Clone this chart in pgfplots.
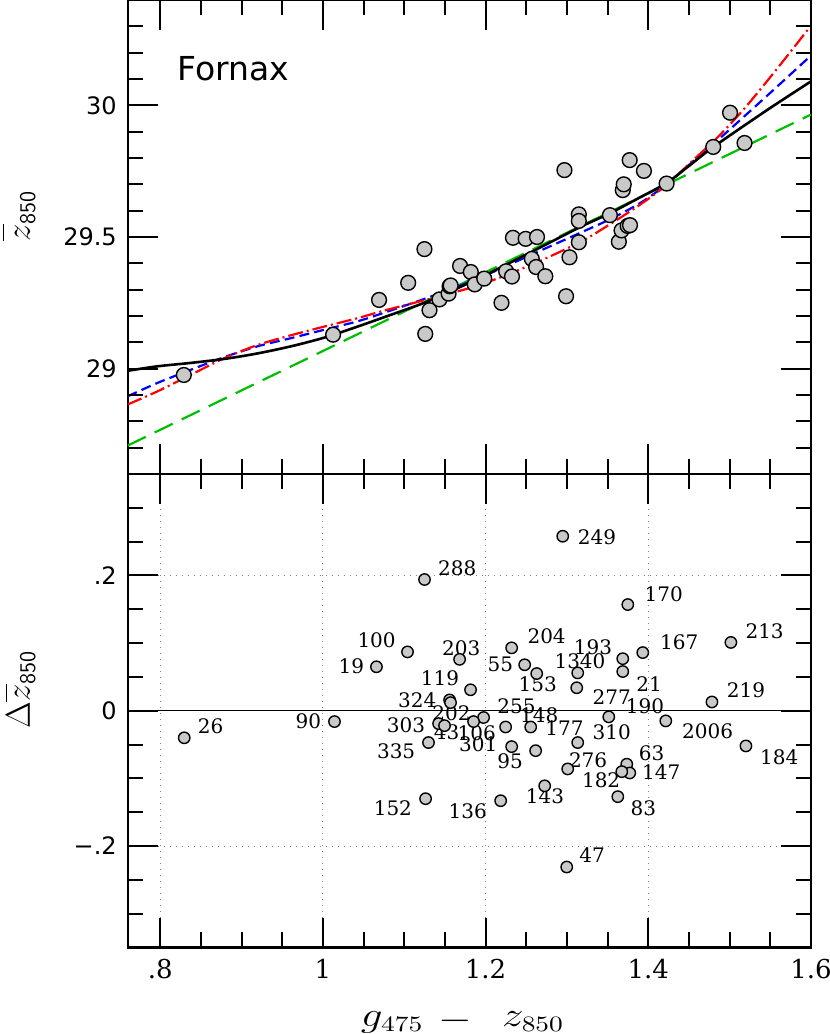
\documentclass[border=0pt]{standalone}
\usepackage{fontspec}
\usepackage{graphicx}
\usepackage{pgfplots}
\pgfplotsset{compat=1.18}

\newfontfamily\dvsans{DejaVu Sans}
\newfontfamily\dvserif{DejaVu Serif}
\newcommand\ticksans{\dvsans\fontsize{12}{14}\selectfont}
\newcommand\tickserif{\dvserif\fontsize{13}{15}\selectfont}
\newcommand\labserif{\dvserif\fontsize{10}{12}\selectfont}

\definecolor{ptgray}{gray}{0.79}
\definecolor{fitgreen}{rgb}{0,0.75,0}
\tikzset{tk/.style={black, line width=1pt}}

\pgfplotsset{
  panel/.style={
    scale only axis, width=341.65pt,
    xmin=0.76, xmax=1.6,
    axis line style={line width=1.1pt},
    tick align=inside,
    major tick length=15pt, minor tick length=7.5pt,
    tick style={black, line width=1pt},
    xtick={0.8,1.0,1.2,1.4,1.6}, minor x tick num=3,
    yticklabel style={font=\ticksans, anchor=east, inner sep=0pt, xshift=-5.3pt},
    xticklabel style={font=\tickserif, anchor=north, inner sep=0pt, yshift=-5.5pt},
    ylabel style={at={(axis description cs:-0.143,0.545)}, anchor=base, inner sep=0pt,
      font=\fontsize{16}{19}\selectfont},
  },
  pts/.style={only marks, mark=*, mark options={fill=ptgray, draw=black, line width=0.7pt}},
  tks/.style={black, line width=1pt, unbounded coords=jump, forget plot, mark=none},
}

\begin{document}
\begin{tikzpicture}
% upper panel: magnitudes and the fits
\begin{axis}[panel, at={(0,0)}, anchor=south west, height=237pt,
  ymin=28.6, ymax=30.4,
  ytick={29,29.5,30}, yticklabels={29,29.5,30}, minor y tick num=4,
  xticklabels={},
  ylabel={$\overline{z\vphantom{b}}_{\mathsf{850}}$},
]
\addplot[fitgreen, line width=1.1pt, dash pattern=on 10pt off 5pt]
  coordinates {(0.76,28.708) (1.6,29.965)};
\addplot[blue, line width=1.1pt, dash pattern=on 5pt off 2.6pt, smooth] table {
x z
0.76 28.895
0.7967 28.946
0.8378 28.996
0.8788 29.044
0.9198 29.085
0.9609 29.116
1.0018 29.148
1.0428 29.180
1.0757 29.213
1.131 29.272
1.1926 29.345
1.2542 29.430
1.3157 29.515
1.3526 29.567
1.3895 29.628
1.4224 29.700
1.4634 29.810
1.492 29.886
1.5455 30.035
1.6 30.189
};
\addplot[red, line width=1.1pt, dash pattern=on 7.5pt off 2pt on 1pt off 2pt, smooth] table {
x z
0.76 28.864
0.7967 28.914
0.8378 28.977
0.8788 29.040
0.9198 29.090
0.9609 29.127
1.0018 29.160
1.0428 29.192
1.0757 29.221
1.131 29.265
1.1926 29.318
1.2542 29.392
1.3157 29.480
1.3526 29.548
1.3895 29.622
1.4224 29.697
1.451 29.780
1.4856 29.880
1.5167 29.983
1.5455 30.090
1.5727 30.195
1.6 30.303
};
\addplot[black, line width=1.3pt, smooth] table {
x z
0.76 28.992
0.7967 29.009
0.8378 29.022
0.8788 29.037
0.9198 29.058
0.9609 29.085
1.0018 29.118
1.0428 29.160
1.0757 29.196
1.131 29.258
1.1926 29.345
1.2542 29.440
1.3157 29.537
1.3526 29.590
1.3895 29.650
1.4224 29.705
1.45 29.770
1.48 29.842
1.5455 29.981
1.6 30.091
};
\addplot[pts, mark size=3.7pt] table {
x z
0.8290 28.976
1.0125 29.129
1.0690 29.261
1.1048 29.326
1.1248 29.454
1.1258 29.132
1.1310 29.222
1.1433 29.263
1.1545 29.285
1.1557 29.313
1.1570 29.316
1.1686 29.390
1.1818 29.367
1.1866 29.320
1.1983 29.342
1.2195 29.250
1.2252 29.370
1.2324 29.350
1.2336 29.497
1.2492 29.493
1.2568 29.417
1.2621 29.386
1.2632 29.500
1.2734 29.351
1.2969 29.754
1.2989 29.275
1.3031 29.423
1.3146 29.586
1.3146 29.561
1.3146 29.480
1.3528 29.583
1.3638 29.482
1.3671 29.525
1.3686 29.678
1.3698 29.700
1.3746 29.542
1.3775 29.545
1.3771 29.792
1.3946 29.751
1.4225 29.703
1.4798 29.842
1.5005 29.972
1.5183 29.857
};
\node[anchor=west, inner sep=0pt, font=\dvsans\fontsize{16.5}{18}\selectfont]
  at (axis cs:0.8205,30.14) {Fornax};
% x ticks on bottom and top edges
\addplot[tks] coordinates {
(0.8,28.6) (0.8,28.714) (0.8,nan) (1.0,28.6) (1.0,28.714) (1.0,nan)
(1.2,28.6) (1.2,28.714) (1.2,nan) (1.4,28.6) (1.4,28.714) (1.4,nan)
(0.8,30.4) (0.8,30.286) (0.8,nan) (1.0,30.4) (1.0,30.286) (1.0,nan)
(1.2,30.4) (1.2,30.286) (1.2,nan) (1.4,30.4) (1.4,30.286)
};
\addplot[tks] coordinates {
(0.85,28.6) (0.85,28.657) (0.85,nan) (0.9,28.6) (0.9,28.657) (0.9,nan)
(0.95,28.6) (0.95,28.657) (0.95,nan) (1.05,28.6) (1.05,28.657) (1.05,nan)
(1.1,28.6) (1.1,28.657) (1.1,nan) (1.15,28.6) (1.15,28.657) (1.15,nan)
(1.25,28.6) (1.25,28.657) (1.25,nan) (1.3,28.6) (1.3,28.657) (1.3,nan)
(1.35,28.6) (1.35,28.657) (1.35,nan) (1.45,28.6) (1.45,28.657) (1.45,nan)
(1.5,28.6) (1.5,28.657) (1.5,nan) (1.55,28.6) (1.55,28.657) (1.55,nan)
(0.85,30.4) (0.85,30.343) (0.85,nan) (0.9,30.4) (0.9,30.343) (0.9,nan)
(0.95,30.4) (0.95,30.343) (0.95,nan) (1.05,30.4) (1.05,30.343) (1.05,nan)
(1.1,30.4) (1.1,30.343) (1.1,nan) (1.15,30.4) (1.15,30.343) (1.15,nan)
(1.25,30.4) (1.25,30.343) (1.25,nan) (1.3,30.4) (1.3,30.343) (1.3,nan)
(1.35,30.4) (1.35,30.343) (1.35,nan) (1.45,30.4) (1.45,30.343) (1.45,nan)
(1.5,30.4) (1.5,30.343) (1.5,nan) (1.55,30.4) (1.55,30.343)
};
% y ticks on left and right edges
\pgfplotsinvokeforeach{29,29.5,30}{
  \draw[tk] (axis cs:0.76,#1) -- ([xshift=15pt]axis cs:0.76,#1);
  \draw[tk] (axis cs:1.6,#1) -- ([xshift=-15pt]axis cs:1.6,#1);
}
\pgfplotsinvokeforeach{28.7,28.8,28.9,29.1,29.2,29.3,29.4,29.6,29.7,29.8,29.9,30.1,30.2,30.3}{
  \draw[tk] (axis cs:0.76,#1) -- ([xshift=7.5pt]axis cs:0.76,#1);
  \draw[tk] (axis cs:1.6,#1) -- ([xshift=-7.5pt]axis cs:1.6,#1);
}
\end{axis}

% lower panel: residuals
\begin{axis}[panel, at={(0,0)}, anchor=north west, height=236.75pt,
  ymin=-0.35, ymax=0.35,
  ytick={-0.2,0,0.2}, yticklabels={−.2,0,.2}, minor y tick num=3,
  xticklabels={.8,1,1.2,1.4,1.6},
  grid=major,
  major grid style={gray, line width=0.5pt, dash pattern=on 0.5pt off 2.5pt},
  ylabel={$\Delta\overline{z\vphantom{t}}_{\mathsf{850}}$},
  xlabel={\scalebox{1.25}[1]{$g_{475}$\hspace{6pt}\raisebox{-1.5pt}{$-$}\hspace{12pt}$z_{850}$}},
  xlabel style={at={(axis description cs:0.49,0)}, anchor=base, inner sep=0pt,
    yshift=-39.5pt, font=\fontsize{16}{19}\selectfont},
]
\addplot[black, line width=0.7pt] coordinates {(0.76,0) (1.6,0)};
\addplot[pts, mark size=2.85pt] table {
x d
1.2948 0.258
1.1249 0.194
1.3748 0.157
1.5015 0.101
1.1040 0.087
1.0658 0.065
1.1680 0.076
1.2320 0.093
1.2480 0.068
1.2628 0.055
1.3132 0.056
1.3686 0.077
1.3686 0.058
1.3932 0.086
1.1815 0.031
1.3120 0.034
1.1557 0.016
1.1569 0.012
1.4782 0.013
1.3514 -0.009
1.4215 -0.015
1.1975 -0.010
1.1422 -0.019
1.1852 -0.016
1.2246 -0.024
1.2554 -0.024
1.1298 -0.047
1.2320 -0.053
1.2615 -0.059
1.3132 -0.047
1.3735 -0.079
1.3772 -0.092
1.3674 -0.090
1.3009 -0.086
1.2726 -0.111
1.3625 -0.127
1.1262 -0.130
1.2185 -0.133
1.2997 -0.231
0.8295 -0.040
1.0142 -0.016
1.5200 -0.052
1.1495 -0.022
};
\begin{scope}[every node/.style={inner sep=0pt, anchor=center, font=\labserif}]
\node at (axis cs:1.337,0.257) {249};
\node at (axis cs:1.165,0.210) {288};
\node at (axis cs:1.419,0.173) {170};
\node at (axis cs:1.543,0.117) {213};
\node at (axis cs:1.066,0.104) {100};
\node at (axis cs:1.275,0.110) {204};
\node at (axis cs:1.170,0.092) {203};
\node at (axis cs:1.332,0.094) {193};
\node at (axis cs:1.438,0.101) {167};
\node at (axis cs:1.218,0.069) {55};
\node at (axis cs:1.316,0.073) {1340};
\node at (axis cs:1.035,0.066) {19};
\node at (axis cs:1.144,0.048) {119};
\node at (axis cs:1.264,0.039) {153};
\node at (axis cs:1.401,0.040) {21};
\node at (axis cs:1.520,0.031) {219};
\node at (axis cs:1.116,0.016) {324};
\node at (axis cs:1.355,0.020) {277};
\node at (axis cs:1.238,0.007) {255};
\node at (axis cs:1.396,0.006) {190};
\node at (axis cs:1.158,-0.003) {202};
\node at (axis cs:1.266,-0.006) {148};
\node at (axis cs:1.102,-0.021) {303};
\node at (axis cs:1.152,-0.031) {43};
\node at (axis cs:1.189,-0.033) {106};
\node at (axis cs:1.297,-0.026) {177};
\node at (axis cs:1.355,-0.031) {310};
\node at (axis cs:1.090,-0.060) {335};
\node at (axis cs:1.191,-0.050) {301};
\node at (axis cs:1.230,-0.075) {95};
\node at (axis cs:1.404,-0.063) {63};
\node at (axis cs:1.416,-0.090) {147};
\node at (axis cs:1.342,-0.102) {182};
\node at (axis cs:1.326,-0.073) {276};
\node at (axis cs:1.273,-0.127) {143};
\node at (axis cs:1.394,-0.144) {83};
\node at (axis cs:1.086,-0.144) {152};
\node at (axis cs:1.178,-0.149) {136};
\node at (axis cs:0.862,-0.023) {26};
\node at (axis cs:0.982,-0.016) {90};
\node at (axis cs:1.473,-0.030) {2006};
\node at (axis cs:1.561,-0.068) {184};
\node at (axis cs:1.331,-0.213) {47};
\end{scope}
% x ticks on bottom and top edges
\addplot[tks] coordinates {
(0.8,-0.35) (0.8,-0.3057) (0.8,nan) (1.0,-0.35) (1.0,-0.3057) (1.0,nan)
(1.2,-0.35) (1.2,-0.3057) (1.2,nan) (1.4,-0.35) (1.4,-0.3057) (1.4,nan)
(0.8,0.35) (0.8,0.3057) (0.8,nan) (1.0,0.35) (1.0,0.3057) (1.0,nan)
(1.2,0.35) (1.2,0.3057) (1.2,nan) (1.4,0.35) (1.4,0.3057)
};
\addplot[tks] coordinates {
(0.85,-0.35) (0.85,-0.3278) (0.85,nan) (0.9,-0.35) (0.9,-0.3278) (0.9,nan)
(0.95,-0.35) (0.95,-0.3278) (0.95,nan) (1.05,-0.35) (1.05,-0.3278) (1.05,nan)
(1.1,-0.35) (1.1,-0.3278) (1.1,nan) (1.15,-0.35) (1.15,-0.3278) (1.15,nan)
(1.25,-0.35) (1.25,-0.3278) (1.25,nan) (1.3,-0.35) (1.3,-0.3278) (1.3,nan)
(1.35,-0.35) (1.35,-0.3278) (1.35,nan) (1.45,-0.35) (1.45,-0.3278) (1.45,nan)
(1.5,-0.35) (1.5,-0.3278) (1.5,nan) (1.55,-0.35) (1.55,-0.3278) (1.55,nan)
(0.85,0.35) (0.85,0.3278) (0.85,nan) (0.9,0.35) (0.9,0.3278) (0.9,nan)
(0.95,0.35) (0.95,0.3278) (0.95,nan) (1.05,0.35) (1.05,0.3278) (1.05,nan)
(1.1,0.35) (1.1,0.3278) (1.1,nan) (1.15,0.35) (1.15,0.3278) (1.15,nan)
(1.25,0.35) (1.25,0.3278) (1.25,nan) (1.3,0.35) (1.3,0.3278) (1.3,nan)
(1.35,0.35) (1.35,0.3278) (1.35,nan) (1.45,0.35) (1.45,0.3278) (1.45,nan)
(1.5,0.35) (1.5,0.3278) (1.5,nan) (1.55,0.35) (1.55,0.3278)
};
% y ticks on left and right edges
\pgfplotsinvokeforeach{-0.2,0,0.2}{
  \draw[tk] (axis cs:0.76,#1) -- ([xshift=15pt]axis cs:0.76,#1);
  \draw[tk] (axis cs:1.6,#1) -- ([xshift=-15pt]axis cs:1.6,#1);
}
\pgfplotsinvokeforeach{-0.3,-0.25,-0.15,-0.1,-0.05,0.05,0.1,0.15,0.25,0.3}{
  \draw[tk] (axis cs:0.76,#1) -- ([xshift=7.5pt]axis cs:0.76,#1);
  \draw[tk] (axis cs:1.6,#1) -- ([xshift=-7.5pt]axis cs:1.6,#1);
}
\end{axis}
\pgfresetboundingbox
\path (-63.85pt,237pt) rectangle (351.15pt,-280pt);
\end{tikzpicture}
\end{document}
